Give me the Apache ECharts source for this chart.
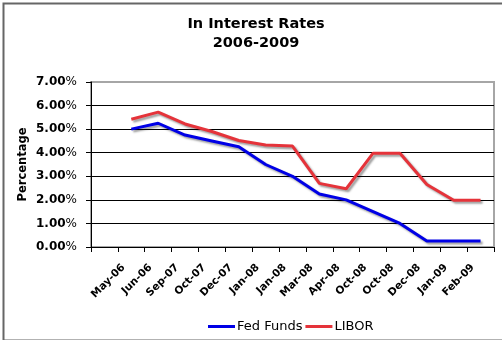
<!DOCTYPE html>
<html>
<head>
<meta charset="utf-8">
<script src="https://cdn.jsdelivr.net/npm/echarts@6/dist/echarts.min.js"></script>
<style>
  html, body { margin: 0; padding: 0; background: #fff; }
  #chart { width: 502px; height: 340px; }
</style>
</head>
<body>
<div id="chart"></div>
<script>
// Month labels; the first slot on the axis is left blank.
const months = ['', 'May-06', 'Jun-06', 'Sep-07', 'Oct-07', 'Dec-07', 'Jan-08', 'Jan-08',
                'Mar-08', 'Apr-08', 'Oct-08', 'Oct-08', 'Dec-08', 'Jan-09', 'Feb-09'];
// Rates in percent
const fedFunds = [null, 5.0, 5.25, 4.75, 4.5, 4.25, 3.5, 3.0, 2.25, 2.0, 1.5, 1.0, 0.25, 0.25, 0.25];
const libor    = [null, 5.42, 5.72, 5.22, 4.9, 4.52, 4.33, 4.28, 2.7, 2.47, 3.98, 3.98, 2.65, 1.98, 1.98];
const yTicks = { min: 0, max: 7, step: 1 };

const FONT = 'DejaVu Sans';
const chart = echarts.init(document.getElementById('chart'), null, { renderer: 'canvas' });

const lineShadow = {
  shadowColor: 'rgba(0,0,0,0.38)',
  shadowBlur: 2,
  shadowOffsetX: 2,
  shadowOffsetY: 2
};

chart.setOption({
  animation: false,
  backgroundColor: '#fff',
  title: {
    text: 'In Interest Rates\n2006-2009',
    left: 251,
    top: 10,
    textAlign: 'center',
    textStyle: {
      fontFamily: FONT,
      fontWeight: 'bold',
      fontSize: 14.5,
      lineHeight: 19,
      color: '#000'
    }
  },
  legend: {
    left: 203,
    top: 315,
    icon: 'rect',
    itemWidth: 27,
    itemHeight: 3,
    itemGap: 3,
    textStyle: { fontFamily: FONT, fontSize: 13, color: '#000', padding: [0, 0, 0, -3] },
    data: ['Fed Funds', 'LIBOR']
  },
  grid: {
    left: 91,
    right: 8,
    top: 82,
    bottom: 93,
    show: true,
    borderColor: '#a6a6a6',
    borderWidth: 2,
    containLabel: false
  },
  xAxis: {
    type: 'category',
    data: months,
    boundaryGap: true,
    axisLine: { lineStyle: { color: '#000', width: 1 } },
    axisTick: { show: true, length: 5, interval: 0, lineStyle: { color: '#000' } },
    axisLabel: {
      interval: 0,
      rotate: 45,
      margin: 11,
      padding: [0, 11, 0, 0],
      fontFamily: FONT,
      fontWeight: 'bold',
      fontSize: 10.5,
      color: '#000'
    },
    splitLine: { show: false }
  },
  yAxis: {
    type: 'value',
    min: yTicks.min,
    max: yTicks.max,
    interval: yTicks.step,
    name: 'Percentage',
    nameLocation: 'middle',
    nameRotate: 90,
    nameGap: 62,
    nameMoveOverlap: false,
    nameTextStyle: { fontFamily: FONT, fontWeight: 'bold', fontSize: 11.5, color: '#000' },
    axisLine: { show: true, lineStyle: { color: '#000', width: 1 } },
    axisTick: { show: true, length: 5, lineStyle: { color: '#000' } },
    axisLabel: {
      margin: 14,
      formatter: v => '{n|' + v.toFixed(2) + '}{p|%}',
      rich: {
        n: { fontFamily: FONT, fontWeight: 'bold', fontSize: 12, color: '#000' },
        p: { fontFamily: FONT, fontWeight: 'normal', fontSize: 12, color: '#000' }
      }
    },
    splitLine: { show: true, showMaxLine: false, lineStyle: { color: '#000', width: 1 } }
  },
  series: [
    {
      name: 'Fed Funds',
      type: 'line',
      data: fedFunds,
      symbol: 'none',
      color: '#0000e6',
      lineStyle: Object.assign({ width: 3, color: '#0000e6' }, lineShadow),
      z: 3
    },
    {
      name: 'LIBOR',
      type: 'line',
      data: libor,
      symbol: 'none',
      color: '#e5333a',
      lineStyle: Object.assign({ width: 3, color: '#e5333a' }, lineShadow),
      z: 4
    }
  ],
  graphic: [
    {
      type: 'rect',
      left: 1,
      top: 1,
      shape: { width: 520, height: 337 },
      style: { fill: 'none', stroke: '#666', lineWidth: 2 },
      silent: true
    }
  ]
});
</script>
</body>
</html>
